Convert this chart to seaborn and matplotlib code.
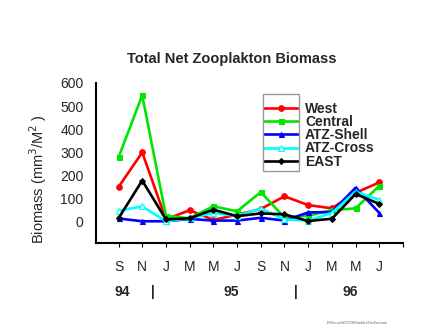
import matplotlib
matplotlib.use("Agg")
import matplotlib.pyplot as plt
import seaborn as sns
import pandas as pd
from matplotlib.patches import Rectangle

months = ["S", "N", "J", "M", "M", "J", "S", "N", "J", "M", "M", "J"]
west = [150, 300, 10, 50, 8, 30, 55, 110, 72, 58, 125, 170]
central = [278, 547, 25, 15, 67, 45, 128, 18, 26, 50, 58, 155]
atz_shell = [14, 2, 2, 12, 5, 5, 17, 5, 40, 42, 147, 38]
atz_cross = [48, 66, 2, 15, 38, 25, 57, 10, 5, 38, 130, 95]
east = [15, 178, 10, 15, 52, 24, 36, 32, 3, 13, 120, 77]
years = ["94", "|", "95", "|", "96"]
year_pos = [0.16, 1.45, 4.74, 7.5, 9.77]

series = {"West": west, "Central": central, "ATZ-Shell": atz_shell,
          "ATZ-Cross": atz_cross, "EAST": east}
styles = {
    "West": dict(color="#ff0000", marker="o", mfc="#ff0000", ms=4),
    "Central": dict(color="#00e600", marker="s", mfc="#00e600", ms=3.6),
    "ATZ-Shell": dict(color="#0000ff", marker="^", mfc="#0000ff", ms=3.6),
    "ATZ-Cross": dict(color="#00ffff", marker="^", mfc="white", ms=3.8),
    "EAST": dict(color="#000000", marker="D", mfc="#000000", ms=3),
}

sns.set_style("white")
plt.rcParams["font.family"] = ["Liberation Sans", "DejaVu Sans"]

fig = plt.figure(figsize=(4.32, 3.30), dpi=100)
ax = fig.add_axes([96/432, 1-243/330, (403-96)/432, (243-83)/330])

for name, vals in series.items():
    df = pd.DataFrame({"x": list(range(len(vals))), "y": vals})
    st = styles[name]
    sns.lineplot(data=df, x="x", y="y", ax=ax, color=st["color"], lw=1.9,
                 marker=st["marker"], markersize=st["ms"],
                 markerfacecolor=st["mfc"], markeredgecolor=st["color"],
                 markeredgewidth=0.8, label=name)

ax.set_xlim(-0.95, 12.0)
ax.set_ylim(-92, 600)
ax.set_xticks(list(range(13)))
ax.set_xticklabels(months + [""], fontsize=10)
ax.set_yticks([0, 100, 200, 300, 400, 500, 600])
ax.set_yticklabels(["0", "100", "200", "300", "400", "500", "600"], fontsize=10)
ax.tick_params(axis="x", direction="out", length=3, width=0.8, pad=9, color="black", bottom=True)
ax.tick_params(axis="y", length=0, pad=9)
ax.set_xlabel("")
ax.set_ylabel("")
for s in ["top", "right"]:
    ax.spines[s].set_visible(False)
for s in ["left", "bottom"]:
    ax.spines[s].set_color("black")
    ax.spines[s].set_linewidth(1.5)

for lab, xp in zip(years, year_pos):
    ax.text(xp, -0.305, lab, transform=ax.get_xaxis_transform(), ha="center",
            va="center", fontsize=10, fontweight="bold")

fig.text(232/432, 1-59/330, "Total Net Zooplakton Biomass", ha="center",
         va="center", fontsize=10.5, fontweight="bold")
fig.text(38/432, 1-179.5/330, "Biomass (mm$^3$/M$^2$ )", ha="center",
         va="center", rotation=90, fontsize=10.5)
fig.text(327/432, 1-323/330, "E:\\Nexus\\WYZOH\\Dtables\\NetZoo.com",
         fontsize=2.5, color="#666666", va="center")

leg = ax.legend(loc="upper left", bbox_to_anchor=(264/432, 1-102/330),
                bbox_transform=fig.transFigure, frameon=False,
                prop={"weight": "bold", "size": 10}, handlelength=2.45,
                handletextpad=0.5, labelspacing=-0.06, borderpad=0,
                borderaxespad=0)
fig.patches.append(Rectangle((263/432, 1-171/330), 36/432, 77/330,
                             transform=fig.transFigure, fill=False,
                             edgecolor="#999999", lw=1.0))

fig.savefig("out.png", dpi=100)
